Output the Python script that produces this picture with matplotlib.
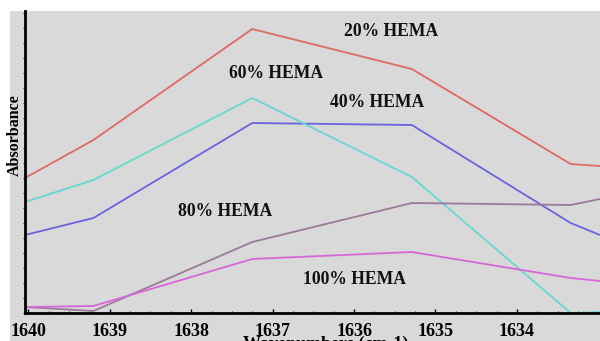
import matplotlib
matplotlib.use("Agg")
import matplotlib.pyplot as plt
from matplotlib.patches import Rectangle
from matplotlib.ticker import MultipleLocator

wavenumbers = [1640.04, 1639.2, 1637.25, 1635.29, 1633.34, 1632.98]
hema20 = [1.35, 1.73, 2.84, 2.44, 1.49, 1.47]
hema40 = [0.78, 0.95, 1.90, 1.88, 0.90, 0.78]
hema60 = [1.11, 1.33, 2.15, 1.36, 0.00, 0.01]
hema80 = [0.06, 0.02, 0.71, 1.10, 1.08, 1.14]
hema100 = [0.06, 0.07, 0.54, 0.61, 0.35, 0.32]
xticks = [1640, 1639, 1638, 1637, 1636, 1635, 1634]

series = [
    ("20% HEMA", hema20, "#e06868", (1635.55, 2.81)),
    ("40% HEMA", hema40, "#6a62e0", (1635.72, 2.10)),
    ("60% HEMA", hema60, "#66d8cf", (1636.96, 2.40)),
    ("80% HEMA", hema80, "#9a7a98", (1637.58, 1.01)),
    ("100% HEMA", hema100, "#d866d8", (1636.0, 0.33)),
]

W, H = 600, 341
fig = plt.figure(figsize=(6.0, 3.41), dpi=100)
fig.patch.set_facecolor("white")
fig.add_artist(Rectangle((10 / W, 0), 1 - 10 / W, (H - 11) / H,
                         transform=fig.transFigure, facecolor="#d9d9d9",
                         edgecolor="none", zorder=0))

ax = fig.add_axes([25 / W, (H - 313) / H, 1 - 25 / W, (313 - 11) / H])
ax.set_facecolor("#d9d9d9")

for name, vals, col, (tx, ty) in series:
    ax.plot(wavenumbers, vals, color=col, lw=1.3)
    ax.text(tx, ty, name, ha="center", va="center", fontsize=12.7,
            fontweight="bold", family="Liberation Serif", color="#111111")

ax.set_xlim(1640.04, 1632.98)
ax.set_ylim(0, 3.02)
ax.set_xticks(xticks)
ax.set_xticklabels([str(t) for t in xticks], fontsize=13, fontweight="bold",
                   family="Liberation Serif")
ax.xaxis.set_minor_locator(MultipleLocator(0.25))
ax.set_yticks([])
ax.yaxis.set_minor_locator(MultipleLocator(0.15))
ax.tick_params(axis="x", which="major", direction="in", length=3, width=1, pad=7.5)
ax.tick_params(axis="x", which="minor", direction="in", length=1.5, width=0.6)
ax.tick_params(axis="y", which="minor", direction="out", length=1.5, width=0.6)

for s in ["top", "right"]:
    ax.spines[s].set_visible(False)
ax.spines["left"].set_linewidth(2)
ax.spines["bottom"].set_linewidth(2)

ax.set_ylabel("Absorbance", fontsize=11.5, fontweight="bold",
              family="Liberation Serif")
ax.yaxis.set_label_coords((22.5 - 25) / 575, (313 - 135) / 302)

fig.text(326 / W, 1 - 336 / H, "Wavenumbers (cm-1)", ha="center", va="top",
         fontsize=13, fontweight="bold", family="Liberation Serif")

fig.savefig("out.png", dpi=100, facecolor="white")
